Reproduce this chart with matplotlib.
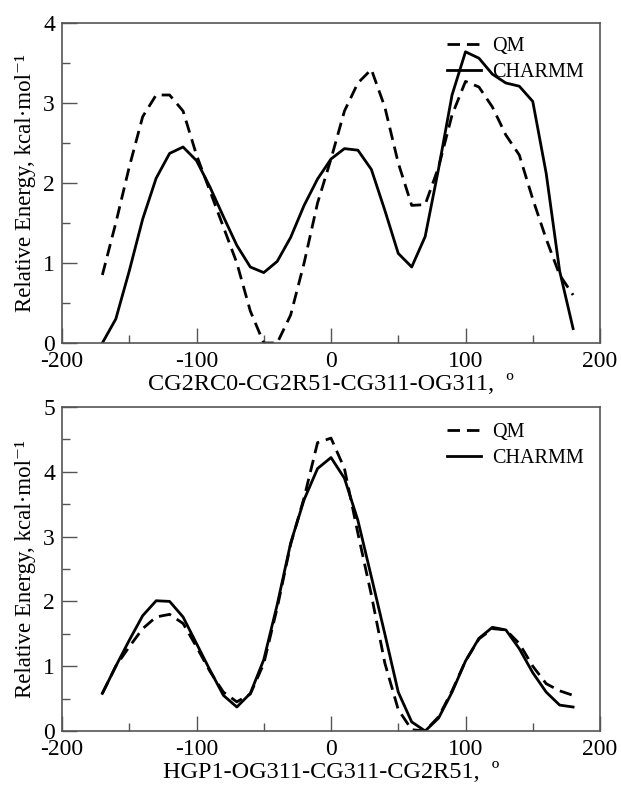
import matplotlib
matplotlib.use("Agg")
import matplotlib.pyplot as plt
from matplotlib.ticker import MultipleLocator

plt.rcParams['font.family'] = ['Liberation Serif', 'DejaVu Serif']
plt.rcParams['axes.unicode_minus'] = False
plt.rcParams['lines.scale_dashes'] = False

# ---- data ----
angles = [-170, -160, -150, -140, -130, -120, -110, -100, -90, -80, -70, -60,
          -50, -40, -30, -20, -10, 0, 10, 20, 30, 40, 50, 60, 70, 80, 90, 100,
          110, 120, 130, 140, 150, 160, 170, 180]

top_qm = [0.85, 1.5, 2.2, 2.83, 3.1, 3.1, 2.9, 2.35, 1.9, 1.45, 1.0, 0.4,
          0.0, 0.0, 0.35, 1.0, 1.75, 2.3, 2.9, 3.25, 3.42, 2.95, 2.25, 1.72,
          1.73, 2.2, 2.85, 3.27, 3.2, 2.95, 2.6, 2.35, 1.8, 1.3, 0.85, 0.6]
top_charmm = [0.0, 0.3, 0.9, 1.55, 2.06, 2.37, 2.45, 2.28, 1.95, 1.58, 1.22, 0.95,
              0.88, 1.02, 1.32, 1.72, 2.05, 2.3, 2.43, 2.41, 2.17, 1.66, 1.12, 0.95,
              1.33, 2.18, 3.1, 3.64, 3.56, 3.36, 3.25, 3.21, 3.02, 2.12, 0.9, 0.18]

bot_qm = [0.58, 1.0, 1.3, 1.58, 1.76, 1.8, 1.66, 1.3, 0.92, 0.6, 0.45, 0.57,
          1.04, 1.9, 2.88, 3.6, 4.45, 4.52, 4.05, 3.05, 2.1, 1.05, 0.33, 0.02,
          0.0, 0.22, 0.62, 1.08, 1.42, 1.58, 1.56, 1.35, 1.0, 0.73, 0.62, 0.55]
bot_charmm = [0.58, 1.0, 1.4, 1.78, 2.01, 2.0, 1.76, 1.35, 0.94, 0.55, 0.37, 0.58,
              1.1, 1.95, 2.9, 3.57, 4.05, 4.22, 3.9, 3.25, 2.38, 1.5, 0.6, 0.14,
              0.0, 0.2, 0.6, 1.08, 1.43, 1.6, 1.56, 1.27, 0.9, 0.6, 0.4, 0.37]

xlabels = ["CG2RC0-CG2R51-CG311-OG311,  º", "HGP1-OG311-CG311-CG2R51,  º"]
ylabel = "Relative Energy, kcal·mol⁻¹"
series_names = ["QM", "CHARMM"]
ymax = [4, 5]

W, H = 621, 785
fig = plt.figure(figsize=(W / 100, H / 100), dpi=100)

def px_axes(l, t, r, b):
    return fig.add_axes([l / W, 1 - b / H, (r - l) / W, (b - t) / H])

ax1 = px_axes(62, 23, 600, 343)
ax2 = px_axes(62, 407, 600, 731)

spine_col = '#555555'
for ax, qm, ch, xl, ym, legy in [(ax1, top_qm, top_charmm, xlabels[0], ymax[0], 0.957),
                                  (ax2, bot_qm, bot_charmm, xlabels[1], ymax[1], 0.950)]:
    ax.plot(angles, qm, color='black', lw=2.0, linestyle=(0, (9, 5)), label=series_names[0])
    ax.plot(angles, ch, color='black', lw=2.0, label=series_names[1])
    ax.set_xlim(-200, 200)
    ax.set_ylim(0, ym)
    ax.xaxis.set_major_locator(MultipleLocator(100))
    ax.xaxis.set_minor_locator(MultipleLocator(50))
    ax.yaxis.set_major_locator(MultipleLocator(1))
    ax.yaxis.set_minor_locator(MultipleLocator(0.5))
    ax.tick_params(which='both', direction='in', top=False, right=False,
                   color=spine_col, width=1.0, labelsize=17)
    ax.tick_params(which='major', length=11)
    ax.tick_params(axis='x', which='major', pad=6)
    ax.tick_params(axis='y', which='major', pad=5)
    ax.tick_params(which='minor', length=5.5)
    for s in ax.spines.values():
        s.set_color(spine_col)
        s.set_linewidth(1.2)
    ax.set_xlabel(xl, fontsize=17.5, labelpad=1)
    ax.set_ylabel(ylabel, fontsize=16.5, labelpad=5)
    leg = ax.legend(loc='upper left', bbox_to_anchor=(0.715, legy), frameon=False,
                    fontsize=14.5, handlelength=1.7, handletextpad=0.55,
                    borderpad=0, borderaxespad=0, labelspacing=0.35)

fig.savefig("out.png", dpi=100)
